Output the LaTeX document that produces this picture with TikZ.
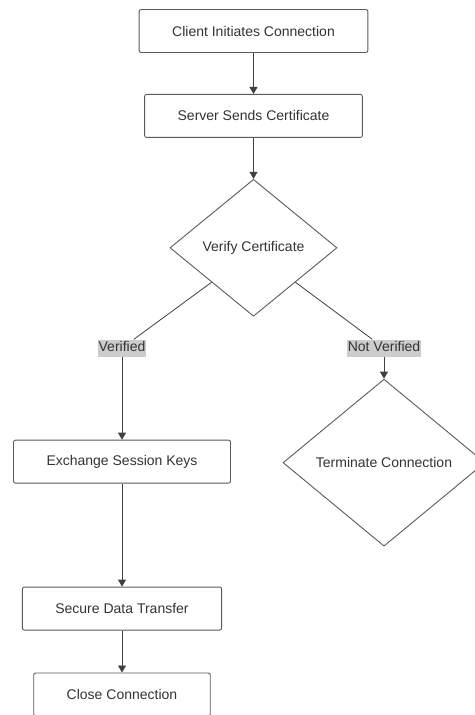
\documentclass[tikz,border=0pt]{standalone}
\usepackage{fontspec}
\setmainfont{Liberation Sans}
\usetikzlibrary{positioning,shapes.geometric,arrows.meta}
\definecolor{edgegray}{HTML}{5A5A5A}
\definecolor{textgray}{HTML}{333333}
\definecolor{taggray}{HTML}{CCCCCC}

\begin{document}
\begin{tikzpicture}[x=1pt, y=1pt,
		font=\fontsize{14}{16}\selectfont, text=textgray,
		block/.style={rectangle, rounded corners=2pt, draw=edgegray, fill=white, line width=0.9pt, inner xsep=33pt, minimum height=43pt},
		decision/.style={diamond, draw=edgegray, fill=white, line width=0.9pt, inner sep=0pt},
		tag/.style={rectangle, fill=taggray, inner xsep=1pt, inner ysep=2pt, text height=10pt, text depth=3pt}
	]
	\useasboundingbox (0,0) rectangle (474,-715);
	\node[block] (client) at (253.5,-31) {Client Initiates Connection};
	\node[block] (server) [below=41pt of client] {Server Sends Certificate};
	\node[decision, minimum width=167pt, minimum height=137pt] (verify) [below=41pt of server] {Verify Certificate};
	\node[tag] (verified) at (122,-348) {Verified};
	\node[tag] (notverified) at (384,-348) {Not Verified};
	\node[block] (exchange) [below=83pt of verified] {Exchange Session Keys};
	\node[decision, minimum width=202pt, minimum height=167pt] (terminate) [below=22pt of notverified] {Terminate Connection};
	\node[block] (transfer) [below=103pt of exchange] {Secure Data Transfer};
	\node[block] (close) [below=42pt of transfer] {Close Connection};
	\begin{scope}[draw=black!75, line width=0.8pt, -{Triangle[width=8pt, length=7pt]}]
	\draw (client) -- (server);
	\draw (server) -- (verify);
	\draw[-] (verify.south west) -- (verified);
	\draw[-] (verify.south east) -- (notverified);
	\draw (verified) -- (exchange);
	\draw (notverified) -- (terminate);
	\draw (exchange) -- (transfer);
	\draw (transfer) -- (close);
	\end{scope}
\end{tikzpicture}
\end{document}
